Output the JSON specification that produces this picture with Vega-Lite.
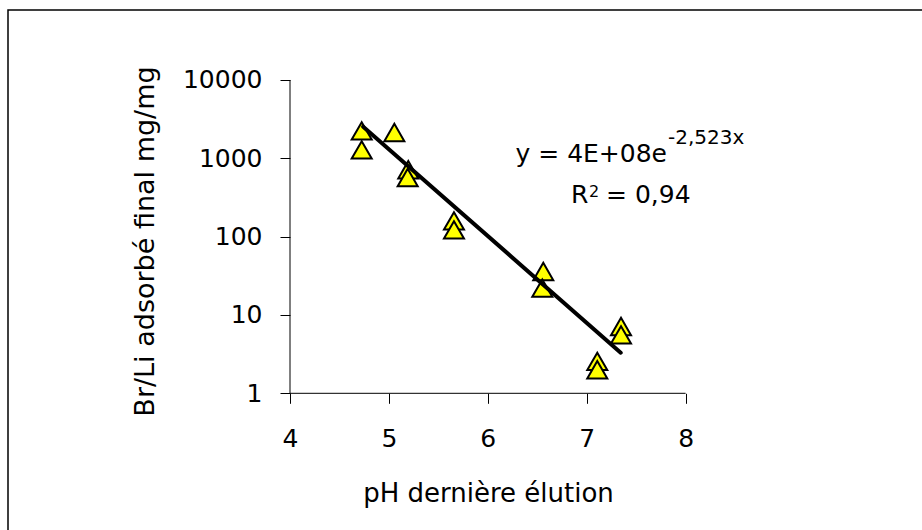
{
  "$schema": "https://vega.github.io/schema/vega-lite/v6.json",
  "width": 920,
  "height": 526,
  "autosize": {"type": "none"},
  "padding": {"left": 8, "top": 10, "right": -6, "bottom": -6},
  "background": "white",
  "config": {
    "view": {"stroke": "#000", "strokeWidth": 1.5},
    "font": "DejaVu Sans",
    "text": {"font": "DejaVu Sans", "color": "#000"}
  },
  "datasets": {
    "points": [
      {"ph": 4.725, "ratio": 2246},
      {"ph": 4.725, "ratio": 1285},
      {"ph": 5.055, "ratio": 2138},
      {"ph": 5.196, "ratio": 714},
      {"ph": 5.19, "ratio": 569},
      {"ph": 5.658, "ratio": 159},
      {"ph": 5.658, "ratio": 122},
      {"ph": 6.561, "ratio": 35.9},
      {"ph": 6.551, "ratio": 22.0},
      {"ph": 7.107, "ratio": 2.55},
      {"ph": 7.107, "ratio": 2.0},
      {"ph": 7.347, "ratio": 7.13},
      {"ph": 7.347, "ratio": 5.58}
    ],
    "trend": [
      {"ph": 4.74, "ratio": 2535},
      {"ph": 7.344, "ratio": 3.3}
    ]
  },
  "layer": [
    {
      "data": {"name": "points"},
      "mark": {"type": "point", "shape": "triangle-up", "size": 400, "filled": true, "color": "#FFFF00", "fillOpacity": 1, "opacity": 1, "stroke": "#000", "strokeWidth": 2},
      "encoding": {
        "x": {
          "field": "ph", "type": "quantitative",
          "scale": {"type": "linear", "domain": [1.1486, 10.451], "nice": false, "zero": false},
          "axis": {
            "title": "pH dernière élution", "values": [4, 5, 6, 7, 8], "format": "d",
            "offset": -142.7, "domain": false, "grid": false,
            "tickSize": 10, "tickColor": "#000", "tickWidth": 1,
            "labelFontSize": 25, "labelPadding": 23, "labelColor": "#000", "labelFont": "DejaVu Sans",
            "labelFlush": false, "labelOverlap": false,
            "titleFontSize": 26, "titleFontWeight": "normal", "titleColor": "#000", "titleFont": "DejaVu Sans",
            "titleX": 480, "titleY": 108.4, "titleBaseline": "alphabetic", "titleAlign": "center"
          }
        },
        "y": {
          "field": "ratio", "type": "quantitative",
          "scale": {"type": "log", "domain": [0.01507, 78290], "nice": false},
          "axis": {
            "title": "Br/Li adsorbé final mg/mg", "values": [1, 10, 100, 1000, 10000], "format": "d",
            "offset": -282, "domain": false, "grid": false,
            "tickSize": 10, "tickColor": "#000", "tickWidth": 1,
            "labelFontSize": 25, "labelPadding": 18, "labelColor": "#000", "labelFont": "DejaVu Sans",
            "labelFlush": false, "labelOverlap": false,
            "titleFontSize": 27, "titleFontWeight": "normal", "titleColor": "#000", "titleFont": "DejaVu Sans",
            "titleX": -137, "titleY": 231, "titleAngle": 270, "titleBaseline": "alphabetic", "titleAlign": "center"
          }
        }
      }
    },
    {
      "data": {"values": [{}]},
      "mark": {"type": "rule", "color": "#000", "strokeWidth": 1},
      "encoding": {
        "x": {"datum": 4, "type": "quantitative"},
        "x2": {"datum": 8},
        "y": {"datum": 1, "type": "quantitative"}
      }
    },
    {
      "data": {"values": [{}]},
      "mark": {"type": "rule", "color": "#000", "strokeWidth": 1},
      "encoding": {
        "x": {"datum": 4, "type": "quantitative"},
        "y": {"datum": 1, "type": "quantitative"},
        "y2": {"datum": 10000}
      }
    },
    {
      "data": {"name": "trend"},
      "mark": {"type": "line", "color": "#000", "strokeWidth": 4, "strokeCap": "round"},
      "encoding": {
        "x": {"field": "ph", "type": "quantitative"},
        "y": {"field": "ratio", "type": "quantitative"}
      }
    },
    {
      "data": {"values": [{}]},
      "mark": {"type": "text", "text": "y = 4E+08e", "fontSize": 25, "align": "right", "baseline": "alphabetic"},
      "encoding": {"x": {"datum": 7.812, "type": "quantitative"}, "y": {"datum": 906, "type": "quantitative"}}
    },
    {
      "data": {"values": [{}]},
      "mark": {"type": "text", "text": "-2,523x", "fontSize": 20, "align": "left", "baseline": "alphabetic"},
      "encoding": {"x": {"datum": 7.822, "type": "quantitative"}, "y": {"datum": 1524, "type": "quantitative"}}
    },
    {
      "data": {"values": [{}]},
      "mark": {"type": "text", "text": "R", "fontSize": 25, "align": "left", "baseline": "alphabetic"},
      "encoding": {"x": {"datum": 6.841, "type": "quantitative"}, "y": {"datum": 271.8, "type": "quantitative"}}
    },
    {
      "data": {"values": [{}]},
      "mark": {"type": "text", "text": "2", "fontSize": 16, "align": "left", "baseline": "alphabetic"},
      "encoding": {"x": {"datum": 7.023, "type": "quantitative"}, "y": {"datum": 320.6, "type": "quantitative"}}
    },
    {
      "data": {"values": [{}]},
      "mark": {"type": "text", "text": "= 0,94", "fontSize": 25, "align": "left", "baseline": "alphabetic"},
      "encoding": {"x": {"datum": 7.195, "type": "quantitative"}, "y": {"datum": 271.8, "type": "quantitative"}}
    }
  ]
}
